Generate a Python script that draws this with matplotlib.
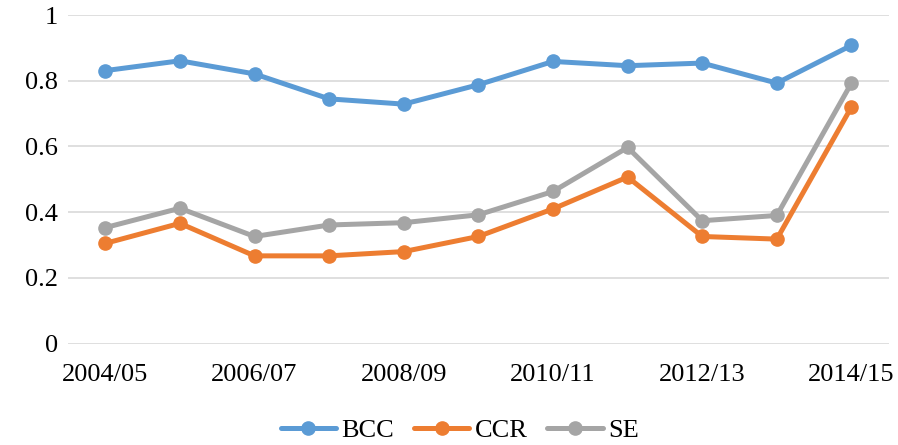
import numpy as np
import matplotlib.pyplot as plt

plt.rcParams['font.family'] = ['Liberation Serif', 'DejaVu Serif']

years = ['2004/05', '2005/06', '2006/07', '2007/08', '2008/09', '2009/10',
         '2010/11', '2011/12', '2012/13', '2013/14', '2014/15']
bcc = [0.831, 0.861, 0.821, 0.745, 0.729, 0.788, 0.859, 0.846, 0.854, 0.793, 0.908]
ccr = [0.305, 0.366, 0.267, 0.267, 0.280, 0.326, 0.410, 0.507, 0.326, 0.318, 0.720]
se = [0.353, 0.412, 0.326, 0.361, 0.368, 0.392, 0.463, 0.597, 0.374, 0.390, 0.793]

fig = plt.figure(figsize=(8.98, 4.45), dpi=100)
ax = fig.add_axes([0.0757, 0.228, 0.914, 0.738])

x = np.arange(len(years))
for vals, col, name in [(bcc, '#5B9BD5', 'BCC'), (ccr, '#ED7D31', 'CCR'), (se, '#A5A5A5', 'SE')]:
    ax.plot(x, vals, color=col, lw=3.6, marker='o', ms=9.5, label=name,
            solid_capstyle='round', zorder=3)

ax.set_xlim(-0.5, len(years) - 0.5)
ax.set_ylim(0, 1)
ax.set_yticks([0, 0.2, 0.4, 0.6, 0.8, 1.0])
ax.set_yticklabels(['0', '0.2', '0.4', '0.6', '0.8', '1'])
ax.set_xticks(x[::2])
ax.set_xticklabels(years[::2])
ax.tick_params(axis='both', length=0, labelsize=19)
ax.tick_params(axis='y', pad=7)
ax.tick_params(axis='x', pad=15)
ax.grid(axis='y', color='#D9D9D9', lw=1.2)
ax.set_axisbelow(True)
for s in ax.spines.values():
    s.set_visible(False)

fig.legend(loc='center', bbox_to_anchor=(0.512, 0.033), ncol=3, frameon=False,
           fontsize=19, handlelength=2.1, columnspacing=0.75, handletextpad=0.2)

fig.savefig('out.png', dpi=100)
